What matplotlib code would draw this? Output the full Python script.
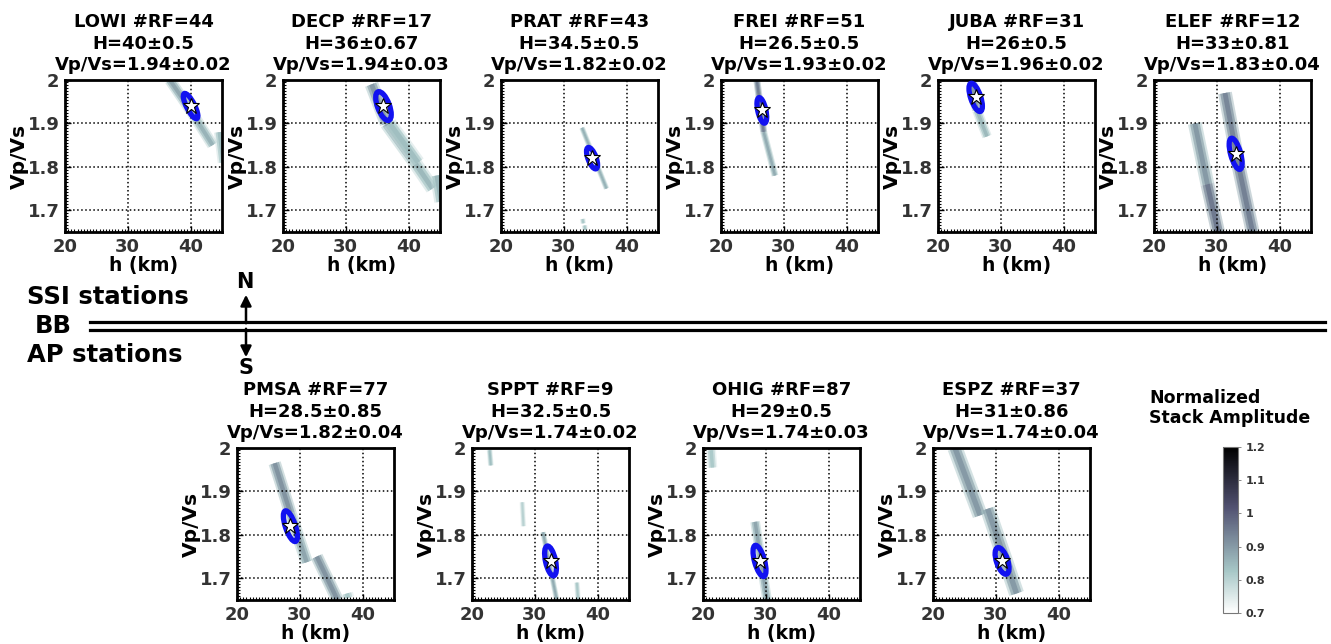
import matplotlib
matplotlib.use("Agg")
import matplotlib.pyplot as plt
from matplotlib.patches import Ellipse
from matplotlib.colors import Normalize
from matplotlib.cm import ScalarMappable
from matplotlib.ticker import MultipleLocator

plt.rcParams['font.family'] = 'DejaVu Sans'
plt.rcParams['font.weight'] = 'bold'

# estaciones (fila superior: SSI, fila inferior: AP)
stations = ['LOWI', 'DECP', 'PRAT', 'FREI', 'JUBA', 'ELEF',
            'PMSA', 'SPPT', 'OHIG', 'ESPZ']
n_rf = [44, 17, 43, 51, 31, 12, 77, 9, 87, 37]
H = [40, 36, 34.5, 26.5, 26, 33, 28.5, 32.5, 29, 31]
H_err = ['0.5', '0.67', '0.5', '0.5', '0.5', '0.81', '0.85', '0.5', '0.5', '0.86']
vpvs = [1.94, 1.94, 1.82, 1.93, 1.96, 1.83, 1.82, 1.74, 1.74, 1.74]
vpvs_err = ['0.02', '0.03', '0.02', '0.02', '0.02', '0.04', '0.04', '0.02', '0.03', '0.04']

# elipse de incertidumbre: semieje mayor (Vp/Vs), semieje menor (km), inclinacion (grados)
ell_major = [0.032, 0.035, 0.026, 0.030, 0.034, 0.037, 0.037, 0.035, 0.037, 0.032]
ell_minor = [0.65, 0.95, 0.65, 0.65, 0.80, 0.80, 0.80, 0.80, 0.80, 0.90]
ell_tilt = [26, 20, 20, 12, 18, 15, 18, 12, 15, 18]

# trazos de amplitud del apilamiento: (h0, k0, h1, k1, amplitud)
streaks = [
    [(36.7, 2.00, 40.0, 1.93, 0.88), (40.0, 1.93, 43.5, 1.85, 0.86), (44.6, 1.88, 45.2, 1.81, 0.84)],
    [(34.1, 1.99, 36.5, 1.90, 0.90), (36.5, 1.90, 40.5, 1.82, 0.88), (40.5, 1.82, 43.8, 1.75, 0.85),
     (37.0, 1.90, 41.5, 1.81, 0.84), (44.5, 1.78, 45.2, 1.72, 0.85)],
    [(32.9, 1.89, 36.8, 1.75, 0.86), (33.0, 1.68, 33.1, 1.67, 0.82), (33.3, 1.665, 33.4, 1.655, 0.82)],
    [(25.7, 2.00, 26.8, 1.88, 0.94), (26.8, 1.88, 28.6, 1.78, 0.87)],
    [(25.4, 2.00, 26.2, 1.93, 0.90), (26.2, 1.93, 27.8, 1.87, 0.85)],
    [(31.3, 1.97, 33.5, 1.80, 0.93), (33.5, 1.80, 35.7, 1.65, 0.94),
     (26.5, 1.90, 28.5, 1.76, 0.90), (28.5, 1.76, 30.2, 1.65, 0.95)],
    [(26.0, 1.965, 28.5, 1.85, 0.91), (28.5, 1.85, 31.1, 1.737, 0.88),
     (32.7, 1.75, 36.0, 1.65, 0.91), (37.5, 1.665, 37.7, 1.655, 0.82)],
    [(22.8, 1.995, 23.0, 1.96, 0.84), (28.0, 1.875, 28.2, 1.82, 0.80),
     (31.3, 1.806, 33.5, 1.65, 0.87), (36.7, 1.69, 36.9, 1.65, 0.82)],
    [(21.3, 1.995, 21.5, 1.955, 0.82), (28.3, 1.83, 30.2, 1.65, 0.88)],
    [(23.5, 2.00, 27.5, 1.845, 0.90), (28.7, 1.86, 33.3, 1.665, 0.90)],
]
streak_lw = [8, 10, 4, 5, 7, 10, 9, 4, 7, 11]

# posiciones de los paneles en pixeles (izquierda, arriba)
fig_w, fig_h = 1331, 644
top_left = [65, 283, 501, 721, 938, 1154]
bot_left = [237, 472, 703, 933]
ax_w, ax_h = 157, 152

cmap = plt.get_cmap('bone_r')
norm = Normalize(vmin=0.7, vmax=1.2)

fig = plt.figure(figsize=(fig_w / 100, fig_h / 100), dpi=100)


def px_axes(left, top, w, h):
    return fig.add_axes([left / fig_w, 1 - (top + h) / fig_h, w / fig_w, h / fig_h])


positions = [(l, 80) for l in top_left] + [(l, 448) for l in bot_left]

for i, st in enumerate(stations):
    ax = px_axes(positions[i][0], positions[i][1], ax_w, ax_h)
    ax.set_xlim(20, 45)
    ax.set_ylim(1.65, 2.0)

    for (h0, k0, h1, k1, amp) in streaks[i]:
        ax.plot([h0, h1], [k0, k1], color=cmap(norm(amp - 0.06)), lw=streak_lw[i],
                alpha=0.45, solid_capstyle='butt', zorder=1)
        ax.plot([h0, h1], [k0, k1], color=cmap(norm(amp - 0.02)), lw=streak_lw[i] * 0.7,
                alpha=0.7, solid_capstyle='butt', zorder=1)
        ax.plot([h0, h1], [k0, k1], color=cmap(norm(amp)), lw=streak_lw[i] * 0.35,
                solid_capstyle='butt', zorder=1)

    ax.grid(True, color='black', linestyle=':', linewidth=1.1, zorder=2)
    ax.set_axisbelow(False)

    cx, cy = ax.transLimits.transform((H[i], vpvs[i]))
    ell = Ellipse((cx, cy), width=2 * ell_minor[i] / 25, height=2 * ell_major[i] / 0.35,
                  angle=ell_tilt[i], transform=ax.transAxes, fill=False,
                  edgecolor='#1212f0', linewidth=3.8, zorder=3)
    ax.add_patch(ell)
    ax.plot(H[i], vpvs[i], marker='*', color='white', markeredgecolor='black',
            markersize=12, markeredgewidth=0.8, zorder=4)

    ax.set_xticks([20, 30, 40])
    ax.set_yticks([1.7, 1.8, 1.9, 2.0])
    ax.set_yticklabels(['1.7', '1.8', '1.9', '2'])
    ax.xaxis.set_minor_locator(MultipleLocator(0.5))
    ax.yaxis.set_minor_locator(MultipleLocator(0.007))
    ax.tick_params(which='major', direction='in', length=4, width=1, labelsize=13,
                   labelcolor='#333333', pad=4)
    ax.tick_params(which='minor', direction='in', length=2, width=0.8)
    for lab in ax.get_xticklabels() + ax.get_yticklabels():
        lab.set_fontweight('bold')
    for sp in ax.spines.values():
        sp.set_linewidth(2)

    ax.set_xlabel('h (km)', fontsize=13.5, fontweight='bold', labelpad=0)
    ax.set_ylabel('Vp/Vs', fontsize=14.5, fontweight='bold', labelpad=-1)
    ax.set_title(f'{st} #RF={n_rf[i]}\nH={H[i]:g}±{H_err[i]}\nVp/Vs={vpvs[i]:.2f}±{vpvs_err[i]}',
                 fontsize=13, fontweight='bold', pad=7, linespacing=1.25)

# separador central
lax = fig.add_axes([0, 0, 1, 1], facecolor='none')
lax.set_xlim(0, fig_w)
lax.set_ylim(fig_h, 0)
lax.axis('off')
lax.plot([90, 1325], [322, 322], color='black', lw=2.3)
lax.plot([90, 1325], [330, 330], color='black', lw=2.3)
lax.text(27, 297, 'SSI stations', fontsize=17.5, fontweight='bold', va='center', ha='left')
lax.text(35, 326, 'BB', fontsize=17.5, fontweight='bold', va='center', ha='left')
lax.text(27, 355, 'AP stations', fontsize=17.5, fontweight='bold', va='center', ha='left')
lax.text(245, 282, 'N', fontsize=15, fontweight='bold', va='center', ha='center')
lax.text(246, 368, 'S', fontsize=15, fontweight='bold', va='center', ha='center')
lax.annotate('', xy=(246, 292), xytext=(246, 326),
             arrowprops=dict(arrowstyle='-|>', color='black', lw=1.8, mutation_scale=16))
lax.annotate('', xy=(246, 360), xytext=(246, 326),
             arrowprops=dict(arrowstyle='-|>', color='black', lw=1.8, mutation_scale=16))

# barra de color
cax = px_axes(1223, 447, 15, 166)
cb = fig.colorbar(ScalarMappable(norm=norm, cmap=cmap), cax=cax,
                  ticks=[0.7, 0.8, 0.9, 1.0, 1.1, 1.2])
cb.ax.set_yticklabels(['0.7', '0.8', '0.9', '1', '1.1', '1.2'])
cb.ax.tick_params(labelsize=8, length=2, width=0.6, color='#777777', labelcolor='#333333')
for lab in cb.ax.get_yticklabels():
    lab.set_fontweight('bold')
cb.outline.set_edgecolor('#777777')
cb.outline.set_linewidth(0.8)
lax.text(1149, 408, 'Normalized\nStack Amplitude', fontsize=12.5, fontweight='bold',
         va='center', ha='left', linespacing=1.2)

fig.savefig('out.png', dpi=100)
